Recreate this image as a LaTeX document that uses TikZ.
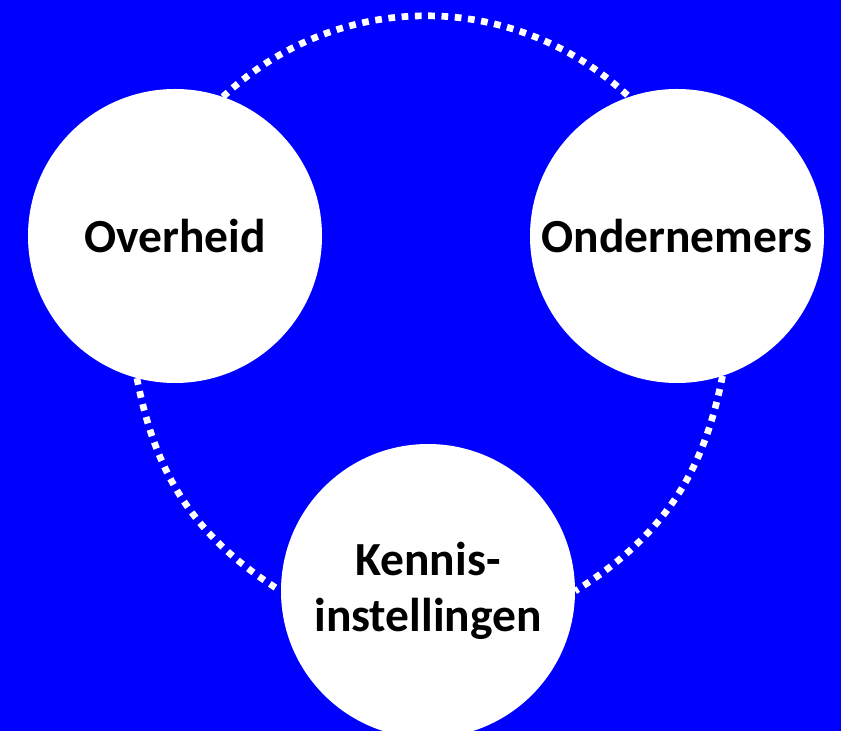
\documentclass[tikz,border=0pt]{standalone}
\usepackage{fontspec}
\setmainfont{Carlito}
\definecolor{bgblue}{RGB}{0,0,255}

\begin{document}
\begin{tikzpicture}[x=1pt,y=1pt]
  \tikzset{partner/.style = {shape=circle, fill=white, inner sep=0pt, minimum size=294pt, align=center,
                             font=\fontsize{47.5}{56}\selectfont\bfseries}} % cirkels
  \tikzset{link/.style = {draw=white, line width=6.7pt, dash pattern=on 6.7pt off 6.6pt}} % stippellijn

  % achtergrond
  \fill[bgblue] (0,0) rectangle (841,731);
  \useasboundingbox (0,0) rectangle (841,731);
  \clip (0,0) rectangle (841,731);

  % knopen
  \node[partner] (over) at (175,495) {Overheid};
  \node[partner] (onder) at (677,495) {Ondernemers};
  \node[partner] (kennis) at (428,140) {Kennis-\\instellingen};

  % verbindingen
  \draw[link] (over.71) to[out=43, in=137] (onder.109);
  \draw[link] (over.255) to[out=281, in=148] (kennis.180);
  \draw[link] (onder.288) to[out=259, in=32] (kennis.0);

\end{tikzpicture}
\end{document}
